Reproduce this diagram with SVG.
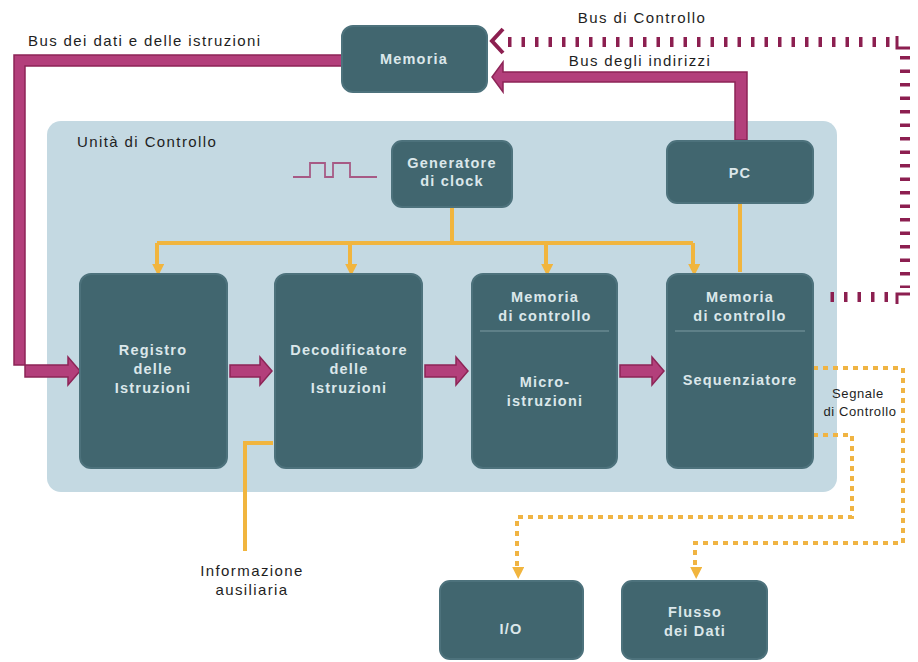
<svg xmlns="http://www.w3.org/2000/svg" width="918" height="662" viewBox="0 0 918 662">
<defs>
<style>
.box{fill:#41666f;stroke:#4d727c;stroke-width:2}
.bt{font-family:"Liberation Sans",Arial,sans-serif;font-size:14.5px;fill:#dbe7ea;text-anchor:middle;font-weight:bold;letter-spacing:1.2px}
.lbl{font-family:"Liberation Sans",Arial,sans-serif;font-size:15px;fill:#1e1e1e;letter-spacing:1.4px}
.sl{font-family:"Liberation Sans",Arial,sans-serif;font-size:13px;fill:#1e1e1e;letter-spacing:0.6px;text-anchor:middle}
.or{fill:none;stroke:#f1b53e;stroke-width:4}
.ord{fill:none;stroke:#f0b443;stroke-width:4;stroke-dasharray:5 5}
.mag{fill:#b33f7b;stroke:#8d2557;stroke-width:1.5;stroke-linejoin:miter}
.cb{fill:none;stroke:#8c1f50;stroke-width:10;stroke-dasharray:3.5 10}
.sep{stroke:#7c9aa2;stroke-width:1}
</style>
<marker id="oa" viewBox="0 0 10 10" refX="5" refY="6" markerWidth="3" markerHeight="3" orient="auto">
<path d="M0,0 L10,5 L0,10 z" fill="#f1b53e"/>
</marker>
</defs>
<rect width="918" height="662" fill="#ffffff"/>

<g id="unita-di-controllo">
<rect x="47" y="121" width="790" height="371" rx="14" fill="#c4d9e2"/>
<text class="lbl" x="77" y="147">Unità di Controllo</text>
</g>

<g id="clock-symbol">
<polyline points="293,177 310,177 310,163 325,163 325,177 333,177 333,163 350,163 350,177 377,177" fill="none" stroke="#a75a85" stroke-width="1.8"/>
</g>

<g id="connectors">
<path class="mag" d="M342,55 H14 V365 H68 V357 L80,371 L68,385 V377 H25 V66 H342 Z"/>
<path class="mag" d="M747,140 V72 H503 V62 L492,77 L503,92 V82 H735 V140 Z"/>
<path class="cb" d="M508,42 H896"/>
<path class="cb" d="M905,56 V288"/>
<path class="cb" d="M888,297 H824"/>
<path d="M897,36 V48 H910" fill="none" stroke="#8c1f50" stroke-width="3"/>
<path d="M910,294 H897 V304" fill="none" stroke="#8c1f50" stroke-width="3"/>
<path d="M503,29 L492,41 L503,53" fill="none" stroke="#8c1f50" stroke-width="4"/>
<path class="mag" d="M230,365 H260 V357 L272,371 L260,385 V377 H230 Z"/>
<path class="mag" d="M425,365 H456 V357 L468,371 L456,385 V377 H425 Z"/>
<path class="mag" d="M620,365 H652 V357 L664,371 L652,385 V377 H620 Z"/>
<path class="or" d="M452,207 V243"/>
<path class="or" d="M157,243 H693"/>
<path class="or" d="M157,243 V270" marker-end="url(#oa)"/>
<path class="or" d="M350,243 V270" marker-end="url(#oa)"/>
<path class="or" d="M546,243 V270" marker-end="url(#oa)"/>
<path class="or" d="M693,243 V270" marker-end="url(#oa)"/>
<path class="or" d="M740,203 V272"/>
<path class="or" d="M273,443 H245 V551"/>
<path class="ord" d="M813,368 H903 V543 H695 V573" marker-end="url(#oa)"/>
<path class="ord" d="M813,435 H852 V517 H517 V573" marker-end="url(#oa)"/>
</g>

<g id="memoria">
<rect class="box" x="342" y="26" width="145" height="66" rx="11"/>
<text class="bt" x="414" y="64">Memoria</text>
</g>

<g id="generatore-clock">
<rect class="box" x="392" y="141" width="120" height="66" rx="10"/>
<text class="bt" x="452" y="168">Generatore</text>
<text class="bt" x="452" y="186">di clock</text>
</g>

<g id="pc">
<rect class="box" x="667" y="141" width="146" height="62" rx="10"/>
<text class="bt" x="740" y="178">PC</text>
</g>

<g id="registro-istruzioni">
<rect class="box" x="80" y="274" width="147" height="194" rx="11"/>
<text class="bt" x="153" y="355">Registro</text>
<text class="bt" x="153" y="374">delle</text>
<text class="bt" x="153" y="393">Istruzioni</text>
</g>

<g id="decodificatore">
<rect class="box" x="275" y="274" width="147" height="194" rx="11"/>
<text class="bt" x="349" y="355">Decodificatore</text>
<text class="bt" x="349" y="374">delle</text>
<text class="bt" x="349" y="393">Istruzioni</text>
</g>

<g id="microistruzioni">
<rect class="box" x="472" y="274" width="145" height="194" rx="11"/>
<text class="bt" x="545" y="302">Memoria</text>
<text class="bt" x="545" y="321">di controllo</text>
<line class="sep" x1="480" y1="331" x2="609" y2="331"/>
<text class="bt" x="545" y="387">Micro-</text>
<text class="bt" x="545" y="406">istruzioni</text>
</g>

<g id="sequenziatore">
<rect class="box" x="667" y="274" width="146" height="194" rx="11"/>
<text class="bt" x="740" y="302">Memoria</text>
<text class="bt" x="740" y="321">di controllo</text>
<line class="sep" x1="675" y1="331" x2="805" y2="331"/>
<text class="bt" x="740" y="385">Sequenziatore</text>
</g>

<g id="io">
<rect class="box" x="440" y="581" width="143" height="78" rx="10"/>
<text class="bt" x="511" y="634">I/O</text>
</g>

<g id="flusso-dati">
<rect class="box" x="622" y="581" width="145" height="78" rx="10"/>
<text class="bt" x="695" y="617">Flusso</text>
<text class="bt" x="695" y="636">dei Dati</text>
</g>

<g id="labels">
<text class="lbl" x="28" y="46">Bus dei dati e delle istruzioni</text>
<text class="lbl" x="642" y="23" text-anchor="middle">Bus di Controllo</text>
<text class="lbl" x="640" y="66" text-anchor="middle">Bus degli indirizzi</text>
<text class="lbl" x="252" y="576" text-anchor="middle">Informazione</text>
<text class="lbl" x="252" y="595" text-anchor="middle">ausiliaria</text>
<text class="sl" x="858" y="398">Segnale</text>
<text class="sl" x="860" y="416">di Controllo</text>
</g>
</svg>
